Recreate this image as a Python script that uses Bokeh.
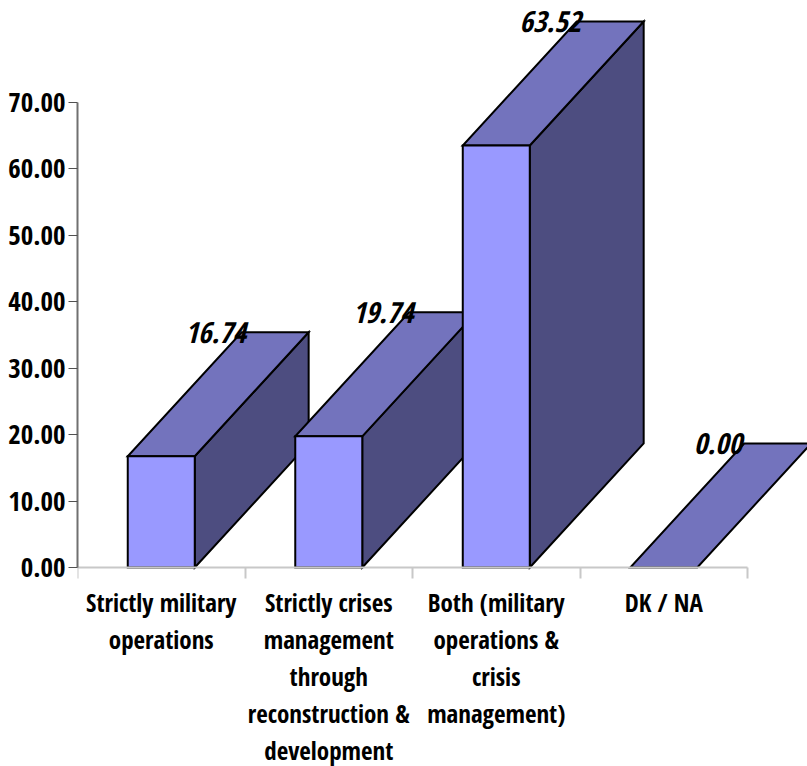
from bokeh.core.properties import value
from bokeh.embed import file_html
from bokeh.models import FixedTicker, LinearAxis, Range1d
from bokeh.plotting import figure
from bokeh.resources import INLINE

categories = [
    ["Strictly military", "operations"],
    ["Strictly crises", "management", "through", "reconstruction &", "development"],
    ["Both (military", "operations &", "crisis", "management)"],
    ["DK / NA"],
]
shares = [16.74, 19.74, 63.52, 0.00]
y_ticks = [0, 10, 20, 30, 40, 50, 60, 70]
category_edges = [0, 1, 2, 3, 4]

FONT = "Open Sans Condensed"
FRONT, TOP, SIDE = "#9999ff", "#7373bd", "#4d4d80"

# one category is 167.5 px wide and one y unit 6.643 px tall
BAR_W = 0.40
DEPTH_X = 0.68
DEPTH_Y = 18.67

p = figure(
    width=807, height=766, frame_width=730, frame_height=766,
    x_range=Range1d(0, 4.358), y_range=Range1d(-29.96, 85.35),
    min_border_left=77, min_border_right=0, min_border_top=0, min_border_bottom=0,
    toolbar_location=None, output_backend="svg",
    x_axis_type=None, y_axis_type=None,
)
p.outline_line_color = None
p.grid.visible = False
p.background_fill_color = "white"

yaxis = LinearAxis(
    ticker=FixedTicker(ticks=y_ticks), bounds=(0, 70),
    axis_line_color="#707070", axis_line_width=2,
    major_tick_line_color="#505050", major_tick_line_width=1,
    major_tick_in=0, major_tick_out=9, minor_tick_line_color=None,
    major_label_standoff=3,
    major_label_text_font=FONT, major_label_text_font_style="bold",
    major_label_text_font_size="27px", major_label_text_color="black",
    major_label_overrides={t: f"{t:.2f}" for t in y_ticks},
)
p.add_layout(yaxis, "left")

# only minor ticks on this axis: they mark category edges and carry no labels
xaxis = LinearAxis(
    ticker=FixedTicker(ticks=[], minor_ticks=category_edges), bounds=(0, 4), fixed_location=0,
    axis_line_color="#c8c8c8", axis_line_width=2,
    major_tick_line_color=None,
    minor_tick_line_color="#c8c8c8", minor_tick_line_width=2,
    minor_tick_in=0, minor_tick_out=11,
)
p.add_layout(xaxis, "below")

# bars are painted left to right so each front face hides its neighbour's side
centres = [i + 0.5 for i in range(len(categories))]
for c, v in zip(centres, shares):
    left = c - BAR_W / 2
    right = c + BAR_W / 2
    style = dict(line_color="black", line_width=2, line_join="miter")
    if v > 0:
        p.patch([right, right + DEPTH_X, right + DEPTH_X, right],
                [0, DEPTH_Y, v + DEPTH_Y, v], fill_color=SIDE, **style)
    p.patch([left, right, right + DEPTH_X, left + DEPTH_X],
            [v, v, v + DEPTH_Y, v + DEPTH_Y], fill_color=TOP, **style)
    if v > 0:
        p.quad(left=left, right=right, bottom=0, top=v, fill_color=FRONT, **style)

p.text(
    x=centres,
    y=[v + DEPTH_Y for v in shares],
    text=[f"{v:.2f}" for v in shares],
    x_offset=54,
    text_font=value(FONT), text_font_style="bold italic", text_font_size="29px",
    text_color="black", text_align="center", text_baseline="middle",
)

# category names sit one row per line under the axis
for c, lines in zip(centres, categories):
    p.text(
        x=[c] * len(lines),
        y=[0] * len(lines),
        text=lines,
        y_offset=[35 + 37 * j for j in range(len(lines))],
        text_font=value(FONT), text_font_style="bold", text_font_size="25px",
        text_color="black", text_align="center", text_baseline="middle",
    )

open("out.html", "w").write(file_html(p, INLINE))
